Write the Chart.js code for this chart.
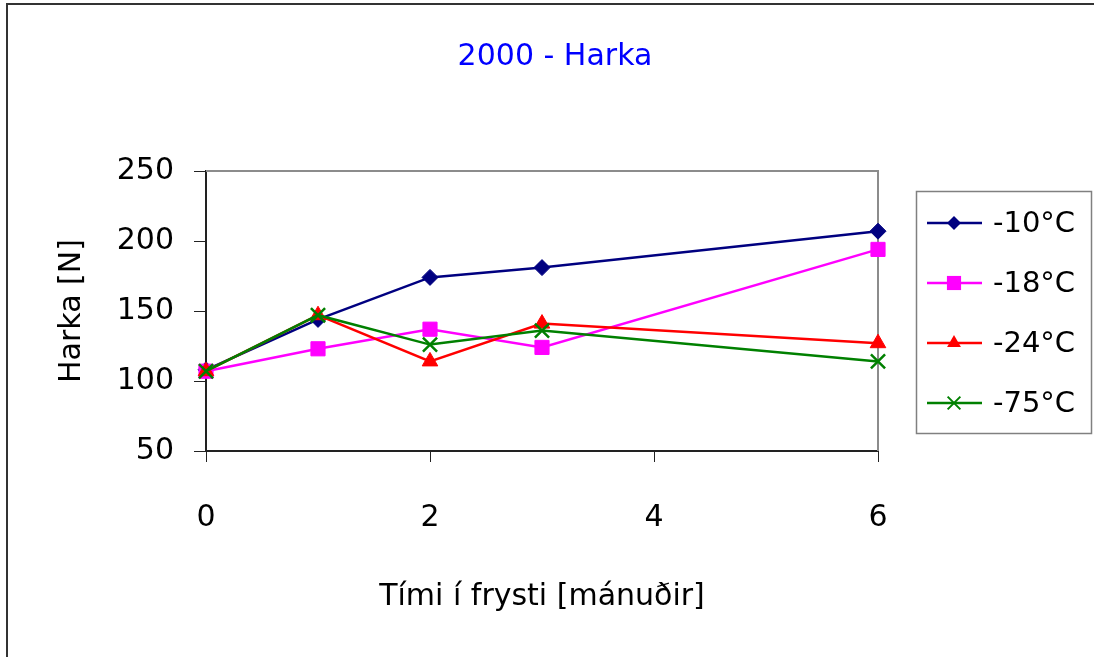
<!DOCTYPE html>
<html>
<head>
<meta charset="utf-8">
<title>2000 - Harka</title>
<script src="https://cdn.jsdelivr.net/npm/chart.js@4/dist/chart.umd.min.js"></script>
<style>
  html, body { margin: 0; padding: 0; background: #fff; }
  #wrap { width: 1094px; height: 657px; }
</style>
</head>
<body>
<div id="wrap"><canvas id="chart" width="1094" height="657"></canvas></div>
<script>
  // values
  const months = [0, 1, 2, 3, 6];
  const seriesLabels = ['-10°C', '-18°C', '-24°C', '-75°C'];
  const harka10 = [108, 144, 174, 181, 207];
  const harka18 = [107, 123, 137, 124, 194];
  const harka24 = [107, 147, 114, 141, 127];
  const harka75 = [107, 147, 126, 136, 114];
  const xTicks = [0, 2, 4, 6];
  const yTicks = [50, 100, 150, 200, 250];
  const chartTitle = '2000 - Harka';

  const FONT = 'DejaVu Sans';

  function points(values) {
    return months.map(function (m, i) {
      return { x: m, y: values[i] };
    });
  }

  const styles = [
    { color: '#000080', style: 'rectRot', radius: 8 },
    { color: '#FF00FF', style: 'rect', radius: 10 },
    { color: '#FF0000', style: 'triangle', radius: 9 },
    { color: '#008000', style: 'crossRot', radius: 10 }
  ];
  const seriesValues = [harka10, harka18, harka24, harka75];

  const datasets = seriesValues.map(function (vals, i) {
    const s = styles[i];
    return {
      label: seriesLabels[i],
      data: points(vals),
      showLine: true,
      borderColor: s.color,
      backgroundColor: s.color,
      borderWidth: 2.5,
      pointStyle: s.style,
      pointRadius: s.radius,
      pointHoverRadius: s.radius,
      pointBorderWidth: s.style === 'crossRot' ? 2.5 : 1,
      order: seriesValues.length - 1 - i, // later series on top, like the original
      clip: false
    };
  });

  // simple marker painter for the hand-drawn legend
  function marker(ctx, style, x, y, r, color) {
    ctx.save();
    ctx.fillStyle = color;
    ctx.strokeStyle = color;
    ctx.lineWidth = 2;
    ctx.beginPath();
    if (style === 'rectRot') {
      ctx.moveTo(x, y - r); ctx.lineTo(x + r, y); ctx.lineTo(x, y + r); ctx.lineTo(x - r, y);
      ctx.closePath(); ctx.fill();
    } else if (style === 'rect') {
      const h = r * Math.SQRT1_2;
      ctx.rect(x - h, y - h, 2 * h, 2 * h); ctx.fill();
    } else if (style === 'triangle') {
      ctx.moveTo(x, y - r);
      ctx.lineTo(x + r * 0.866, y + r / 2);
      ctx.lineTo(x - r * 0.866, y + r / 2);
      ctx.closePath(); ctx.fill();
    } else {
      const h = r * Math.SQRT1_2;
      ctx.moveTo(x - h, y - h); ctx.lineTo(x + h, y + h);
      ctx.moveTo(x + h, y - h); ctx.lineTo(x - h, y + h);
      ctx.stroke();
    }
    ctx.restore();
  }

  const framePlugin = {
    id: 'frame',
    beforeDatasetsDraw: function (chart) {
      const a = chart.chartArea;
      const ctx = chart.ctx;
      ctx.save();
      ctx.strokeStyle = '#8c8c8c';
      ctx.lineWidth = 2;
      ctx.beginPath();
      ctx.moveTo(a.left, a.top);
      ctx.lineTo(a.right, a.top);
      ctx.lineTo(a.right, a.bottom);
      ctx.stroke();
      ctx.restore();
    },
    afterDraw: function (chart) {
      const ctx = chart.ctx;
      ctx.save();
      // outer frame (only top and left visible)
      ctx.strokeStyle = '#333';
      ctx.lineWidth = 2;
      ctx.beginPath();
      ctx.moveTo(7, 657);
      ctx.lineTo(7, 4);
      ctx.lineTo(1094, 4);
      ctx.stroke();

      // title, centred on the whole picture
      ctx.fillStyle = '#0000FF';
      ctx.font = '30px "' + FONT + '"';
      ctx.textAlign = 'center';
      ctx.textBaseline = 'middle';
      ctx.fillText(chartTitle, 555, 57);

      // legend box
      ctx.strokeStyle = '#808080';
      ctx.lineWidth = 1.5;
      ctx.strokeRect(916.5, 191.5, 175, 242);
      ctx.font = '29px "' + FONT + '"';
      ctx.textAlign = 'left';
      const rows = [223, 283, 343, 403];
      chart.data.datasets.forEach(function (ds, i) {
        const y = rows[i];
        ctx.strokeStyle = ds.borderColor;
        ctx.lineWidth = 2.5;
        ctx.beginPath();
        ctx.moveTo(927, y);
        ctx.lineTo(982, y);
        ctx.stroke();
        marker(ctx, ds.pointStyle, 954, y, ds.pointStyle === 'rect' ? 10 : ds.pointRadius - 1, ds.borderColor);
        ctx.fillStyle = '#000';
        ctx.fillText(ds.label, 993, y + 1);
      });
      ctx.restore();
    }
  };

  new Chart(document.getElementById('chart'), {
    type: 'scatter',
    data: { datasets: datasets },
    plugins: [framePlugin],
    options: {
      responsive: false,
      animation: false,
      events: [],
      layout: { padding: { top: 171, right: 216, bottom: 0, left: 0 } },
      plugins: {
        legend: { display: false },
        tooltip: { enabled: false },
        title: { display: false }
      },
      scales: {
        x: {
          type: 'linear',
          min: 0,
          max: 6,
          afterBuildTicks: function (scale) {
            scale.ticks = xTicks.map(function (v) { return { value: v }; });
          },
          afterFit: function (scale) { scale.height = 206; },
          grid: { display: true, drawOnChartArea: false, drawTicks: true, tickLength: 11, color: '#222' },
          border: { display: true, color: '#222', width: 2 },
          ticks: { color: '#000', padding: 38, maxRotation: 0, font: { family: FONT, size: 30, lineHeight: 1.2 } },
          title: {
            display: true,
            text: 'Tími í frysti [mánuðir]',
            color: '#000',
            font: { family: FONT, size: 30, lineHeight: 1.2 },
            padding: { top: 0, bottom: 42 }
          }
        },
        y: {
          type: 'linear',
          min: 50,
          max: 250,
          afterBuildTicks: function (scale) {
            scale.ticks = yTicks.map(function (v) { return { value: v }; });
          },
          afterFit: function (scale) { scale.width = 206; },
          grid: { display: true, drawOnChartArea: false, drawTicks: true, tickLength: 12, color: '#222' },
          border: { display: true, color: '#222', width: 2 },
          ticks: { color: '#000', padding: 20, font: { family: FONT, size: 30, lineHeight: 1.2 } },
          title: {
            display: true,
            text: 'Harka [N]',
            color: '#000',
            font: { family: FONT, size: 30, lineHeight: 1.2 },
            padding: { top: 54, bottom: 0 }
          }
        }
      }
    }
  });
</script>
</body>
</html>
